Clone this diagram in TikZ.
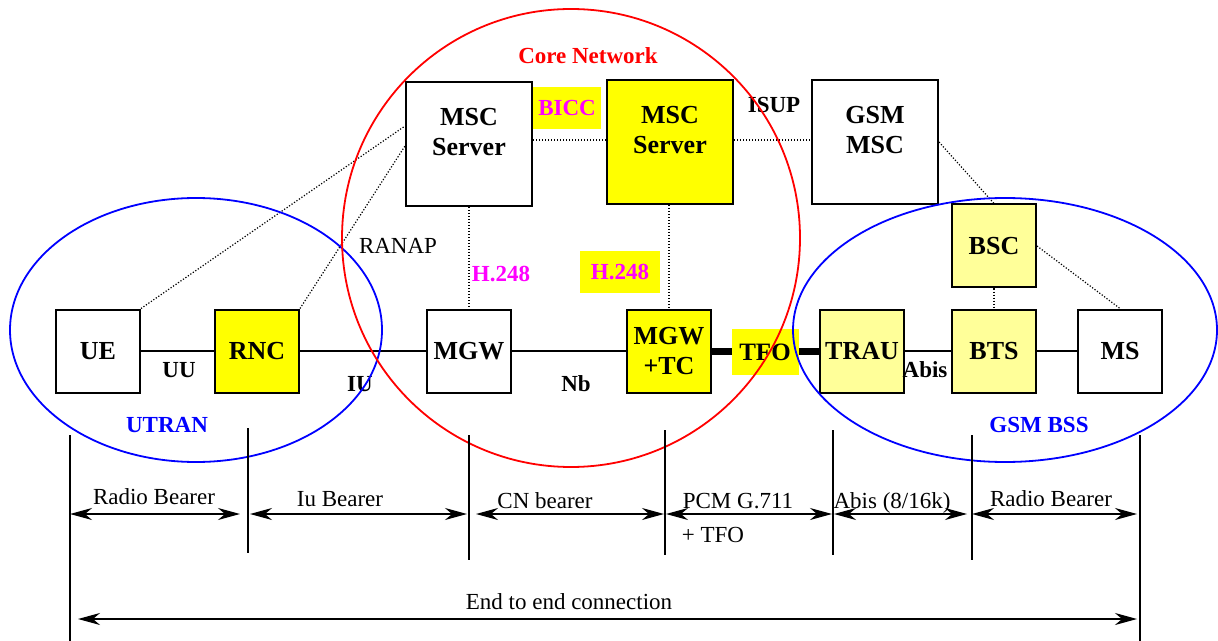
\documentclass[tikz,border=0pt]{standalone}
\usepackage{fontspec}
\setmainfont{Liberation Serif}
\usetikzlibrary{positioning, calc, arrows.meta}
\definecolor{netyellow}{RGB}{255,255,0}
\definecolor{paleyellow}{RGB}{255,255,153}
\definecolor{coremagenta}{RGB}{255,0,255}
\definecolor{corered}{RGB}{255,0,0}
\definecolor{ranblue}{RGB}{0,0,255}
\tikzset{
    box/.style={draw, line width=1pt, fill=white, minimum width=42pt,
                minimum height=41.5pt, inner sep=0pt, align=center,
                font=\bfseries\fontsize{13}{15}\selectfont},
    bigbox/.style={box, minimum width=63pt, minimum height=62pt},
    boxtext/.style={yshift=6pt, align=center,
                font=\bfseries\fontsize{13}{15}\selectfont},
    lbl/.style={font=\bfseries\fontsize{11.5}{13}\selectfont},
    tag/.style={lbl, fill=netyellow, text=coremagenta, inner sep=0pt},
    sig/.style={line width=0.6pt, dash pattern=on 0.6pt off 0.9pt},
    link/.style={line width=0.7pt},
    bearer/.style={font=\fontsize{11.5}{13}\selectfont, anchor=base},
    dim/.style={line width=0.75pt},
    dimarrow/.style={line width=0.75pt,
                {Stealth[length=11pt,width=6pt,inset=3.5pt]}-{Stealth[length=11pt,width=6pt,inset=3.5pt]}},
}
\begin{document}
\begin{tikzpicture}[x=0.5pt, y=-0.5pt]
    \useasboundingbox (0,0) rectangle (1218,641);
    % UTRAN side
    \node[box] (ue) at (98,351) {UE};
    \node[box, fill=netyellow] (rnc) at (257,351) {RNC};
    % Core network
    \node[bigbox, label={[boxtext]center:MSC\\Server}] (msc1) at (469,144) {};
    \node[bigbox, fill=netyellow, label={[boxtext]center:MSC\\Server}] (msc2) at (670,142) {};
    \node[box] (mgw) at (469,351) {MGW};
    \node[box, fill=netyellow] (mgwtc) at (669,351) {MGW\\+TC};
    % GSM side
    \node[bigbox, label={[boxtext]center:GSM\\MSC}] (gsmmsc) at (875,142) {};
    \node[box, fill=paleyellow] (bsc) at (994,246) {BSC};
    \node[box, fill=paleyellow] (trau) at (862,351) {TRAU};
    \node[box, fill=paleyellow] (bts) at (994,351) {BTS};
    \node[box] (ms) at (1120,351) {MS};
    % Bearer links
    \draw[link] (ue) -- (rnc);
    \draw[link] (rnc) -- (mgw);
    \draw[link] (mgw) -- (mgwtc);
    \draw[line width=3.5pt] (mgwtc) -- (trau);
    \draw[link] (trau) -- (bts);
    \draw[link] (bts) -- (ms);
    % Signalling links
    \draw[sig] (ue.north east) -- ([yshift=9pt]msc1.west);
    \draw[sig] (rnc.north east) -- ([yshift=-1pt]msc1.west);
    \draw[sig] ([yshift=2pt]msc1.east) -- ([yshift=2pt]msc1.east -| msc2.west);
    \draw[sig] ([yshift=1pt]msc2.east) -- ([yshift=1pt]gsmmsc.west);
    \draw[sig] (msc1) -- (mgw);
    \draw[sig] (msc2.south -| mgwtc.north) -- (mgwtc.north);
    \draw[sig] (gsmmsc.east) -- (bsc.north);
    \draw[sig] (bsc.east) -- (ms.north);
    \draw[sig] (bsc) -- (bts);
    % Interface labels
    \node[lbl, anchor=base] (uu) at (179,377) {UU};
    \node[lbl, anchor=base] (iu) at (360,391) {IU};
    \node[lbl, anchor=base] (nb) at (576,391) {Nb};
    \node[lbl, anchor=base] (abis) at (925,377) {Abis};
    \node[lbl, anchor=base] (isup) at (774,113) {ISUP};
    \node[bearer] (ranap) at (398,254) {RANAP};
    \node[lbl, text=coremagenta, anchor=base] (h248a) at (501,281) {H.248};
    \node[tag, minimum width=40pt, minimum height=21pt] (h248b) at (620,272) {H.248};
    \node[tag, minimum width=34pt, minimum height=21pt] (bicc) at (567,108) {BICC};
    \node[tag, text=black, minimum width=33.5pt, minimum height=23pt,
          font=\bfseries\fontsize{12.5}{14}\selectfont] (tfo) at (765,352) {TFO};
    % Domains
    \node[lbl, text=corered, anchor=base] (core) at (588,64) {Core Network};
    \node[lbl, text=ranblue, anchor=base] (utran) at (167,432) {UTRAN};
    \node[lbl, text=ranblue, anchor=base] (bss) at (1039,432) {GSM BSS};
    \draw[ranblue, line width=0.9pt] (196,330) ellipse [x radius=93pt, y radius=66pt];
    \draw[corered, line width=0.9pt] (571,238) circle [radius=114.5pt];
    \draw[ranblue, line width=0.9pt] (1005,330) ellipse [x radius=106pt, y radius=66pt];
    % Bearer segments
    \foreach \n/\x/\t/\b in {va/70/435/641, vb/248/428/553, vc/469/435/560,
                             vd/665/430/555, ve/833/430/555, vf/972/435/560,
                             vg/1140/435/641} {
        \coordinate (\n t) at (\x,\t);
        \coordinate (\n b) at (\x,\b);
        \draw[dim] (\n t) -- (\n b);
    }
    \foreach \n/\a/\b in {rb/70/240, iub/250/467, cnb/476/664,
                          pcm/666/832, abisb/834/967, gsmrb/972/1137} {
        \coordinate (\n l) at (\a,514);
        \coordinate (\n r) at (\b,514);
        \draw[dimarrow] (\n l) -- (\n r);
    }
    \coordinate (e2e l) at (78,619);
    \coordinate (e2e r) at (1137,619);
    \draw[dimarrow] (e2e l) -- (e2e r);
    \node[bearer] (rbtxt) at (154,504) {Radio Bearer};
    \node[bearer] (iubtxt) at (340,506) {Iu Bearer};
    \node[bearer] (cnbtxt) at (545,508) {CN bearer};
    \node[bearer] (pcmtxt) at (738,508) {PCM G.711};
    \node[bearer] (tfotxt) at (713,542) {+ TFO};
    \node[bearer] (abistxt) at (892,508) {Abis (8/16k)};
    \node[bearer] (gsmrbtxt) at (1051,506) {Radio Bearer};
    \node[bearer] (e2etxt) at (569,609) {End to end connection};
\end{tikzpicture}
\end{document}
